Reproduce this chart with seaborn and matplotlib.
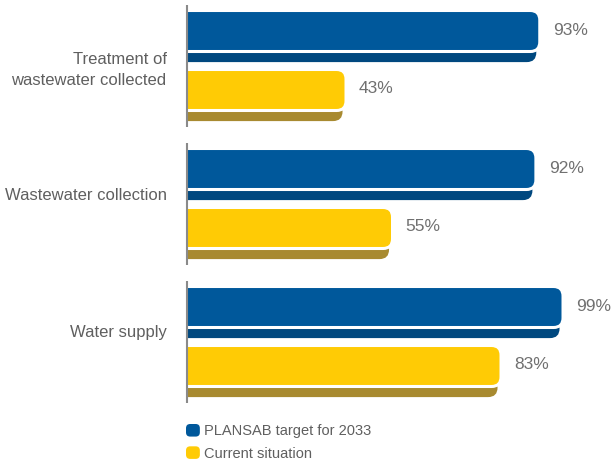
import matplotlib
matplotlib.use("Agg")
import matplotlib.pyplot as plt
import matplotlib.transforms as mtransforms
import seaborn as sns
import pandas as pd
from matplotlib.patches import FancyBboxPatch, Patch
from matplotlib.legend_handler import HandlerPatch

categories = ["Treatment of\nwastewater collected", "Wastewater collection", "Water supply"]
series = ["PLANSAB target for 2033", "Current situation"]
target_2033 = [93, 92, 99]
current = [43, 55, 83]

colors = ["#00589B", "#FFCB05"]
shadow_colors = ["#00487F", "#A88A30"]
text_grey = "#5f5f5f"

df = pd.DataFrame({
    "category": categories * 2,
    "series": [series[0]] * 3 + [series[1]] * 3,
    "value": target_2033 + current,
})

sns.set_theme(style="white")
plt.rcParams["font.family"] = ["Liberation Sans", "DejaVu Sans"]

W, H = 615, 463
fig = plt.figure(figsize=(W / 100, H / 100), dpi=100)
ax_left_px, ax_right_px = 186, 600
ax_top_px, ax_bot_px = 0, 410
ax = fig.add_axes([ax_left_px / W, (H - ax_bot_px) / H,
                   (ax_right_px - ax_left_px) / W, (ax_bot_px - ax_top_px) / H])

sns.barplot(data=df, x="value", y="category", hue="series", orient="h",
            palette=colors, width=0.855, ax=ax, legend=False, saturation=1)

# scales
px_per_x = 3.875
x0_px = 179.4
px_per_y = 138.0
xlim_left = (ax_left_px - x0_px) / px_per_x
xlim_right = (ax_right_px - x0_px) / px_per_x
ax.set_xlim(xlim_left, xlim_right)
c0_px = 60.5
ax.set_ylim(2 + (ax_bot_px - (c0_px + 2 * px_per_y)) / px_per_y, -(c0_px - ax_top_px) / px_per_y)

ux = 1 / px_per_x
uy = 1 / px_per_y
aspect = uy / ux
bar_h = 41 * uy
shadow_off = 10.6 * uy
radius = 9.5 * ux

# replace seaborn bars with rounded bars + shadows
bars = list(ax.patches)
geoms = []
for p in bars:
    fc = p.get_facecolor()
    hue_idx = 0 if abs(fc[2] - matplotlib.colors.to_rgba(colors[0])[2]) < 0.05 else 1
    y = p.get_y()
    h = p.get_height()
    w = p.get_width()
    geoms.append((hue_idx, y + h / 2, w))
    p.remove()

for hue_idx, yc, w in geoms:
    top = yc - bar_h / 2
    sh = FancyBboxPatch((-6, top + shadow_off), w + 6 - 0.9, bar_h,
                        boxstyle=f"round,pad=0,rounding_size={radius}",
                        mutation_aspect=aspect, fc=shadow_colors[hue_idx], ec="none", zorder=2)
    ax.add_patch(sh)
    mb = FancyBboxPatch((-6, top), w + 6, bar_h,
                        boxstyle=f"round,pad=0,rounding_size={radius}",
                        mutation_aspect=aspect, fc=colors[hue_idx], ec="white", lw=2.2, zorder=3)
    ax.add_patch(mb)
    lab = f"{w:.0f}%"
    ax.text(w + 13 * ux, yc - 1 * uy, lab, va="center", ha="left",
            fontsize=12.5, color="#707070", zorder=4)

# per-group vertical axis segments
line_x = xlim_left + 1 * ux
for i in range(len(categories)):
    top = i - 0.855 / 4 - bar_h / 2 - 6 * uy
    bot = i + 0.855 / 4 + bar_h / 2 + shadow_off + 6 * uy
    ax.vlines(line_x, top, bot, color="#8a8a8a", lw=1.5, zorder=5, clip_on=False)

for s in ax.spines.values():
    s.set_visible(False)
ax.set_xticks([])
ax.set_xlabel("")
ax.set_ylabel("")
ax.tick_params(axis="y", length=0, pad=14, labelsize=12, labelcolor=text_grey)
ax.grid(False)

label_shift_px = [5, -4, -6]
for lbl, dy in zip(ax.get_yticklabels(), label_shift_px):
    lbl.set_linespacing(1.5)
    off = mtransforms.ScaledTranslation(0, -dy / 100, fig.dpi_scale_trans)
    lbl.set_transform(lbl.get_transform() + off)


class RoundHandler(HandlerPatch):
    def create_artists(self, legend, orig_handle, xdescent, ydescent, width, height, fontsize, trans):
        p = FancyBboxPatch((-xdescent, -ydescent), width, height,
                           boxstyle="round,pad=0,rounding_size=3",
                           fc=orig_handle.get_facecolor(), ec="none", transform=trans)
        return [p]


handles = [Patch(facecolor=c) for c in colors]
leg = fig.legend(handles, series, loc="upper left",
                 bbox_to_anchor=(186 / W, 1 - 424 / H), frameon=False,
                 fontsize=10.5, handlelength=0.95, handleheight=0.95,
                 handletextpad=0.3, labelspacing=0.55, borderpad=0, borderaxespad=0,
                 handler_map={Patch: RoundHandler()})
for t in leg.get_texts():
    t.set_color(text_grey)

fig.savefig("out.png", dpi=100)
